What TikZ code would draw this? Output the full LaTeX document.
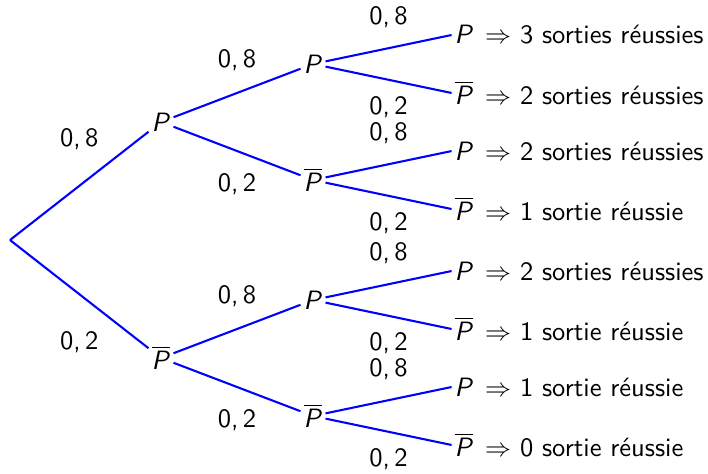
\documentclass[tikz,border=0pt]{standalone}
\usepackage{amsmath,amssymb}
\usepackage{tikz}
\usetikzlibrary{positioning,calc}
\usepackage{xcolor}
\renewcommand{\familydefault}{\sfdefault}

\newcommand{\evP}{\textit{P}}
\newcommand{\evPb}{$\overline{\hbox{\textit{P}}}$}
\newcommand{\imp}{\hspace{4.5pt}$\Rightarrow$ }

\tikzset{
  branch/.style={blue,line width=0.8pt},
  evt/.style={inner sep=1pt},
  leaf/.style={inner sep=1pt,anchor=west},
  plab/.style={midway,yshift=#1,black},
}

\begin{document}
\begin{tikzpicture}[font=\fontsize{10.2}{12.3}\selectfont]
\useasboundingbox (0,0) rectangle (9.572,6.395);
% arbre
\coordinate (r) at (0.135,3.150);
\node[evt] (p)  at (2.177,4.746) {\evP};
\node[evt] (pb) at (2.177,1.555) {\evPb};
\node[evt] (pp)   at (4.232,5.530) {\evP};
\node[evt] (ppb)  at (4.232,3.961) {\evPb};
\node[evt] (pbp)  at (4.232,2.339) {\evP};
\node[evt] (pbpb) at (4.232,0.771) {\evPb};
\node[leaf] (ppp)    at (6.105,5.922) {\evP\imp 3 sorties réussies};
\node[leaf] (pppb)   at (6.105,5.138) {\evPb\imp 2 sorties réussies};
\node[leaf] (ppbp)   at (6.105,4.353) {\evP\imp 2 sorties réussies};
\node[leaf] (ppbpb)  at (6.105,3.569) {\evPb\imp 1 sortie réussie};
\node[leaf] (pbpp)   at (6.105,2.731) {\evP\imp 2 sorties réussies};
\node[leaf] (pbppb)  at (6.105,1.947) {\evPb\imp 1 sortie réussie};
\node[leaf] (pbpbp)  at (6.105,1.163) {\evP\imp 1 sortie réussie};
\node[leaf] (pbpbpb) at (6.105,0.379) {\evPb\imp 0 sortie réussie};
% branches
\draw[branch] (r) -- (p) node[plab=17.9pt] {0,\,8};
\draw[branch] (r) -- (pb) node[plab=-18.5pt] {0,\,2};
\draw[branch] (p) -- (pp) node[plab=12.7pt] {0,\,8};
\draw[branch] (p) -- (ppb) node[plab=-12.7pt] {0,\,2};
\draw[branch] (pb) -- (pbp) node[plab=12.7pt] {0,\,8};
\draw[branch] (pb) -- (pbpb) node[plab=-12.7pt] {0,\,2};
\draw[branch] (pp) -- (ppp.west) node[plab=12pt] {0,\,8};
\draw[branch] (pp) -- (pppb.west) node[plab=-10.6pt] {0,\,2};
\draw[branch] (ppb) -- (ppbp.west) node[plab=12pt] {0,\,8};
\draw[branch] (ppb) -- (ppbpb.west) node[plab=-10.6pt] {0,\,2};
\draw[branch] (pbp) -- (pbpp.west) node[plab=12pt] {0,\,8};
\draw[branch] (pbp) -- (pbppb.west) node[plab=-10.6pt] {0,\,2};
\draw[branch] (pbpb) -- (pbpbp.west) node[plab=12pt] {0,\,8};
\draw[branch] (pbpb) -- (pbpbpb.west) node[plab=-10.6pt] {0,\,2};
\end{tikzpicture}
\end{document}
